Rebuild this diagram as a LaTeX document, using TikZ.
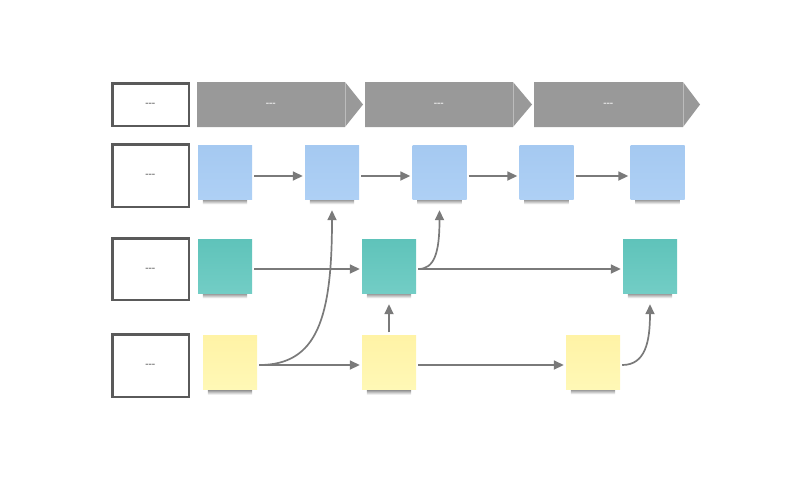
\documentclass[tikz,border=0pt]{standalone}
\usetikzlibrary{arrows.meta,backgrounds}
\definecolor{boxgray}{RGB}{90,90,90}
\definecolor{stagegray}{RGB}{153,153,153}
\definecolor{flowgray}{RGB}{122,122,122}
\definecolor{bluetop}{RGB}{165,201,241}
\definecolor{bluebot}{RGB}{174,208,245}
\definecolor{tealtop}{RGB}{95,195,186}
\definecolor{tealbot}{RGB}{114,205,197}
\definecolor{yellowtop}{RGB}{255,243,166}
\definecolor{yellowbot}{RGB}{255,248,182}

\begin{document}
\begin{tikzpicture}[x = 1pt, y = -1pt]
		\tikzstyle{every node} = [font = \footnotesize\bfseries]
		\tikzstyle{lanebox} = [draw = boxgray, line width = 2.5pt, fill = white, text = boxgray, minimum width = 76.5pt, inner sep = 0pt]
		\tikzstyle{stagetext} = [text = white]
		\tikzstyle{note} = [minimum width = 54pt, minimum height = 54pt, inner sep = 0pt]
		\tikzstyle{bluenote} = [note, top color = bluetop, bottom color = bluebot]
		\tikzstyle{tealnote} = [note, top color = tealtop, bottom color = tealbot]
		\tikzstyle{yellownote} = [note, top color = yellowtop, bottom color = yellowbot]
		\tikzstyle{flow} = [draw = flowgray, line width = 1.7pt, -{Triangle[length = 10pt, width = 9pt]}, shorten < = 2pt, shorten > = 2pt]
		\useasboundingbox (0,0) rectangle (800,485);

		% lanes on the left
		\node [lanebox, minimum height = 42.5pt] (l0) at (150.5,104.5) {-{}-{}-};
		\node [lanebox, minimum height = 62.5pt] (l1) at (150.5,175.5) {-{}-{}-};
		\node [lanebox, minimum height = 61.5pt] (l2) at (150.5,269) {-{}-{}-};
		\node [lanebox, minimum height = 62.5pt] (l3) at (150.5,365.5) {-{}-{}-};

		% stages
		\foreach \a/\b/\c/\n in {197/345/363/s1, 365/513/532/s2, 534/683/700/s3}
		{
			\fill [stagegray] (\a,82) -- (\b,82) -- (\c,104.5) -- (\b,127) -- (\a,127) -- cycle;
			\draw [white, opacity = .35, line width = .6pt] (\b,82) -- (\b,127);
			\node [stagetext] (\n) at ({(\a+\b)/2},104.5) {-{}-{}-};
		}

		% notes
		\node [bluenote] (b1) at (225,172) {};
		\node [bluenote] (b2) at (332,172) {};
		\node [bluenote] (b3) at (439.5,172) {};
		\node [bluenote] (b4) at (546.5,172) {};
		\node [bluenote] (b5) at (657.5,172) {};
		\node [tealnote] (t1) at (225,266) {};
		\node [tealnote] (t2) at (389,266) {};
		\node [tealnote] (t3) at (650,266) {};
		\node [yellownote] (y1) at (230,362.5) {};
		\node [yellownote] (y2) at (389,362.5) {};
		\node [yellownote] (y3) at (593,362) {};

		\begin{scope}[on background layer]
			\foreach \n in {b1,b2,b3,b4,b5,t1,t2,t3,y1,y2,y3}
			{
				\shade [top color = black!55, bottom color = white] ([xshift = 5pt, yshift = 1pt]\n.south west) rectangle ([xshift = -5pt, yshift = -5pt]\n.south east);
			}
		\end{scope}

		\draw [flow] ([yshift = -4pt]b1.east) -- ([yshift = -4pt]b2.west); %b1 to b2
		\draw [flow] ([yshift = -4pt]b2.east) -- ([yshift = -4pt]b3.west); %b2 to b3
		\draw [flow] ([yshift = -4pt]b3.east) -- ([yshift = -4pt]b4.west); %b3 to b4
		\draw [flow] ([yshift = -4pt]b4.east) -- ([yshift = -4pt]b5.west); %b4 to b5

		\draw [flow] ([yshift = -3pt]t1.east) -- ([yshift = -3pt]t2.west); %t1 to t2
		\draw [flow] ([yshift = -3pt]t2.east) -- ([yshift = -3pt]t3.west); %t2 to t3
		\draw [flow] ([yshift = -3pt]t2.east) .. controls +(18,0) and +(0,45) .. ([yshift = -9pt]b3.south); %t2 to b3

		\draw [flow] ([yshift = -2.5pt]y1.east) -- ([yshift = -2.5pt]y2.west); %y1 to y2
		\draw [flow] ([yshift = -2.5pt]y2.east) -- ([yshift = -3pt]y3.west); %y2 to y3
		\draw [flow] ([yshift = -2.5pt]y1.east) .. controls +(60,0) and +(0,110) .. ([yshift = -9pt]b2.south); %y1 to b2
		\draw [flow] ([yshift = 1pt]y2.north) -- ([yshift = -9pt]t2.south); %y2 to t2
		\draw [flow] ([yshift = -3pt]y3.east) .. controls +(25,0) and +(0,40) .. ([yshift = -9pt]t3.south); %y3 to t3
	\end{tikzpicture}
\end{document}
